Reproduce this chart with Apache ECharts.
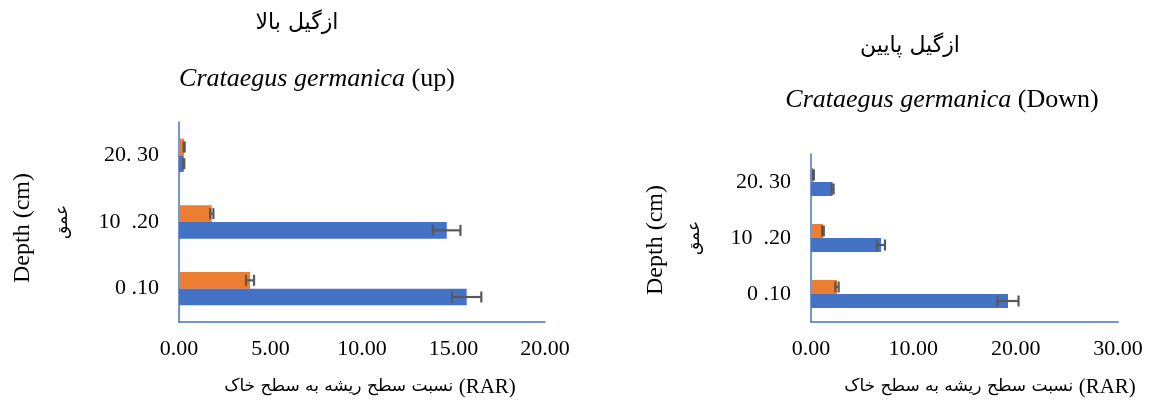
<!DOCTYPE html>
<html>
<head>
<meta charset="utf-8">
<script src="https://cdn.jsdelivr.net/npm/echarts@6/dist/echarts.min.js"></script>
<style>
  html, body { margin: 0; padding: 0; background: #fff; }
  #chart { width: 1158px; height: 408px; }
</style>
</head>
<body>
<div id="chart"></div>
<script>
// Depth classes (bottom to top)
const depthLabels = ['0 .10', '10  .20', '20. 30'];

// Upper-slope stand (up)
const upBlue = [15.72, 14.63, 0.26];
const upBlueErr = [0.80, 0.75, 0.03];
const upOrange = [3.88, 1.79, 0.28];
const upOrangeErr = [0.22, 0.09, 0.03];

// Lower-slope stand (Down)
const downBlue = [19.25, 6.84, 2.11];
const downBlueErr = [1.03, 0.39, 0.10];
const downOrange = [2.54, 1.17, 0.23];
const downOrangeErr = [0.16, 0.08, 0.05];

// Value-axis scales
const upScale = { min: 0, max: 20, interval: 5 };
const downScale = { min: 0, max: 30, interval: 10 };

// Text
const titleFaUp = 'ازگیل بالا';
const titleFaDown = 'ازگیل پایین';
const speciesName = 'Crataegus germanica';
const xNameFa = 'نسبت سطح ریشه به سطح خاک';
const xNameTag = '(RAR)';
const yNameEn = 'Depth (cm)';
const yNameFa = 'عمق';

const BLUE = '#4472C4';
const ORANGE = '#ED7D31';
const ERR = '#595959';
const SERIF = '"Liberation Serif", "Times New Roman", serif';
const FA = '"DejaVu Sans", sans-serif';

const chart = echarts.init(document.getElementById('chart'), null, { renderer: 'canvas' });

function valueAxis(gridIndex, scale) {
  return {
    type: 'value', gridIndex,
    min: scale.min, max: scale.max, interval: scale.interval,
    axisLine: { show: true, lineStyle: { color: BLUE, width: 1.5 } },
    axisTick: { show: false },
    splitLine: { show: false },
    axisLabel: {
      margin: 16, color: '#000', fontSize: 22, fontFamily: SERIF,
      formatter: v => v.toFixed(2)
    }
  };
}

function categoryAxis(gridIndex) {
  return {
    type: 'category', gridIndex, data: depthLabels,
    axisLine: { show: true, lineStyle: { color: BLUE, width: 1.5 } },
    axisTick: { show: false },
    axisLabel: { margin: 20, color: '#000', fontSize: 22, fontFamily: SERIF }
  };
}

function barSeries(idx, values, color) {
  return {
    type: 'bar', xAxisIndex: idx, yAxisIndex: idx,
    data: values, barGap: '0%', barCategoryGap: '50%',
    itemStyle: { color }
  };
}

// Horizontal error bars; side = +1 places them on the lower bar of the pair
function errorSeries(idx, values, errs, side) {
  return {
    type: 'custom', xAxisIndex: idx, yAxisIndex: idx, z: 5,
    data: values.map((v, i) => [v, i, errs[i]]),
    encode: { x: 0, y: 1 },
    renderItem(params, api) {
      const v = api.value(0), cat = api.value(1), e = api.value(2);
      const band = api.size([0, 1])[1];
      const y = api.coord([v, cat])[1] + side * band * 0.125;
      const xa = api.coord([v - e, cat])[0];
      const xb = api.coord([v + e, cat])[0];
      const h = 5.5;
      const st = { stroke: ERR, lineWidth: 2.2 };
      return {
        type: 'group',
        children: [
          { type: 'line', shape: { x1: xa, y1: y, x2: xb, y2: y }, style: st },
          { type: 'line', shape: { x1: xa, y1: y - h, x2: xa, y2: y + h }, style: st },
          { type: 'line', shape: { x1: xb, y1: y - h, x2: xb, y2: y + h }, style: st }
        ]
      };
    }
  };
}

function label(text, x, y, size, family, rotate, rich) {
  return {
    type: 'text', x, y, rotation: rotate ? Math.PI / 2 : 0,
    style: {
      text, fontSize: size, fontFamily: family, fill: '#000',
      align: 'center', verticalAlign: 'middle', rich
    }
  };
}

function xNameLabel(x, y) {
  return label(
    '{fa|' + xNameFa + '} {en|' + xNameTag + '}', x, y, 17, FA, false,
    {
      fa: { fontSize: 17, fontFamily: FA, fill: '#000' },
      en: { fontSize: 21, fontFamily: SERIF, fill: '#000' }
    }
  );
}

function faTitle(text, x, y) {
  return {
    text, left: x, top: y, textAlign: 'center',
    textStyle: { fontSize: 22, fontWeight: 'normal', color: '#000', fontFamily: FA }
  };
}

function enTitle(suffix, x, y) {
  return {
    text: '{i|' + speciesName + '} (' + suffix + ')', left: x, top: y, textAlign: 'center',
    textStyle: {
      fontSize: 26, fontWeight: 'normal', color: '#000', fontFamily: SERIF,
      rich: { i: { fontSize: 26, fontStyle: 'italic', color: '#000', fontFamily: SERIF } }
    }
  };
}

const option = {
  backgroundColor: '#fff',
  animation: false,
  title: [
    faTitle(titleFaUp, 292, 7),
    enTitle('up', 312, 61),
    faTitle(titleFaDown, 905, 30),
    enTitle('Down', 937, 82)
  ],
  grid: [
    { left: 179, right: 613, top: 122, bottom: 86 },
    { left: 811, right: 40, top: 154, bottom: 86 }
  ],
  xAxis: [valueAxis(0, upScale), valueAxis(1, downScale)],
  yAxis: [categoryAxis(0), categoryAxis(1)],
  series: [
    barSeries(0, upOrange, ORANGE),
    barSeries(0, upBlue, BLUE),
    errorSeries(0, upBlue, upBlueErr, 1),
    errorSeries(0, upOrange, upOrangeErr, -1),
    barSeries(1, downOrange, ORANGE),
    barSeries(1, downBlue, BLUE),
    errorSeries(1, downBlue, downBlueErr, 1),
    errorSeries(1, downOrange, downOrangeErr, -1)
  ],
  graphic: [
    label(yNameEn, 23, 228, 24, SERIF, true),
    label(yNameFa, 63, 222, 17, FA, true),
    label(yNameEn, 656, 240, 24, SERIF, true),
    label(yNameFa, 695, 238, 17, FA, true),
    xNameLabel(370, 387),
    xNameLabel(990, 387)
  ]
};

chart.setOption(option);
</script>
</body>
</html>
